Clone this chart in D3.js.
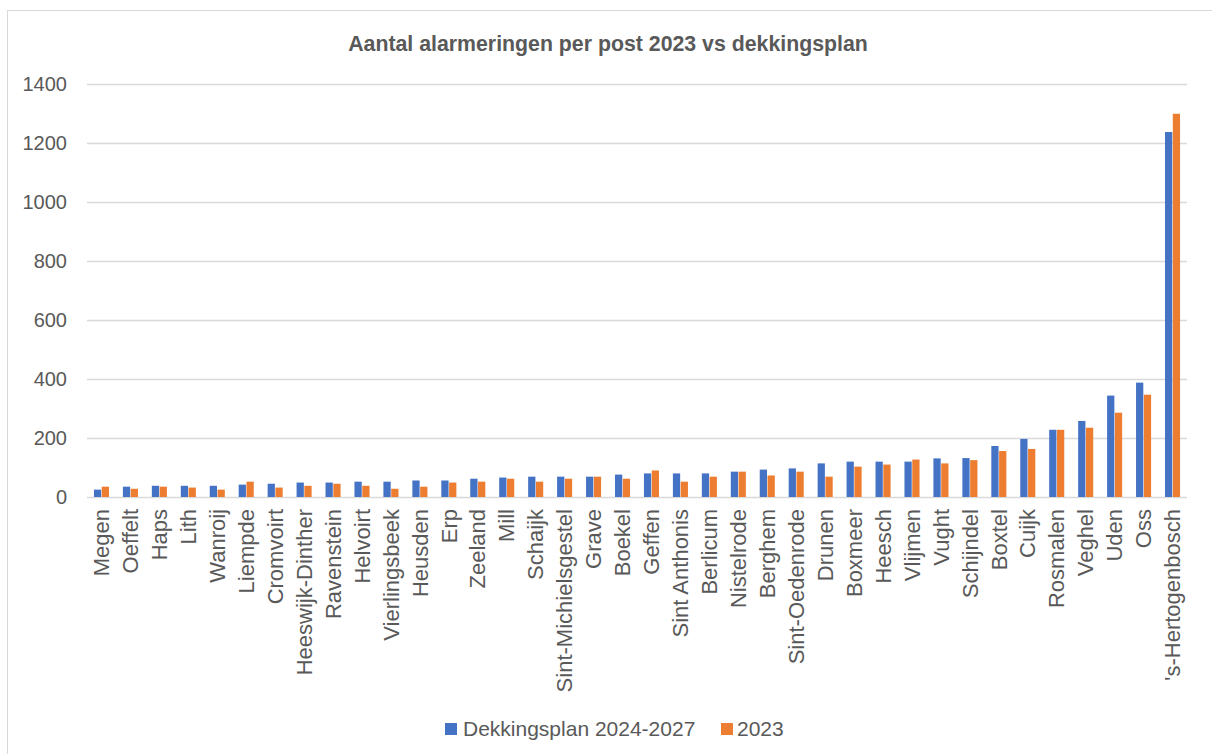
<!DOCTYPE html>
<html>
<head>
<meta charset="utf-8">
<script src="https://cdn.jsdelivr.net/npm/d3@7"></script>
<style>
  html, body { margin: 0; padding: 0; background: #fff; }
  svg { display: block; }
  text { font-family: "Liberation Sans", Arial, sans-serif; fill: #595959; }
</style>
</head>
<body>
<svg id="chart" width="1212" height="754"></svg>
<script>
const categories = ["Megen","Oeffelt","Haps","Lith","Wanroij","Liempde","Cromvoirt","Heeswijk-Dinther","Ravenstein","Helvoirt","Vierlingsbeek","Heusden","Erp","Zeeland","Mill","Schaijk","Sint-Michielsgestel","Grave","Boekel","Geffen","Sint Anthonis","Berlicum","Nistelrode","Berghem","Sint-Oedenrode","Drunen","Boxmeer","Heesch","Vlijmen","Vught","Schijndel","Boxtel","Cuijk","Rosmalen","Veghel","Uden","Oss","'s-Hertogenbosch"];
const dekkingsplan = [25,35,38,38,38,42,45,49,49,52,52,56,56,62,66,69,69,69,76,80,80,80,86,93,97,114,120,120,120,131,132,173,197,228,258,344,388,1238];
const jaar2023 = [35,28,35,32,25,52,32,38,45,38,28,35,49,52,62,52,62,69,62,90,52,69,86,73,86,69,103,110,127,114,125,156,163,228,235,286,347,1300];
const yTicks = [0,200,400,600,800,1000,1200,1400];
const seriesNames = ["Dekkingsplan 2024-2027","2023"];
const seriesColors = ["#4472C4","#ED7D31"];
const title = "Aantal alarmeringen per post 2023 vs dekkingsplan";

const svg = d3.select("#chart");
const plot = {left: 87, right: 1187, top: 84, bottom: 497};

// chart border
svg.append("rect").attr("x", 7.5).attr("y", 10.5).attr("width", 1220).attr("height", 760)
  .attr("fill", "#fff").attr("stroke", "#D9D9D9").attr("stroke-width", 1);

const x0 = d3.scaleBand().domain(categories).range([plot.left, plot.right])
  .paddingInner(0.48).paddingOuter(0.24);
const x1 = d3.scaleBand().domain([0,1]).range([0, x0.bandwidth()]).paddingInner(0.07);
const y = d3.scaleLinear().domain([0,1400]).range([plot.bottom, plot.bottom - 1400*0.2948]);

// gridlines
svg.append("g").selectAll("line").data(yTicks).join("line")
  .attr("x1", plot.left).attr("x2", plot.right)
  .attr("y1", d => Math.round(y(d)) + 0.5).attr("y2", d => Math.round(y(d)) + 0.5)
  .attr("stroke", "#D9D9D9").attr("stroke-width", 1.3);

// y axis labels
const yAxis = d3.axisLeft(y).tickValues(yTicks).tickFormat(d3.format("d")).tickSize(0).tickPadding(0);
const yg = svg.append("g").attr("transform", `translate(67,0)`).call(yAxis);
yg.select(".domain").remove();
yg.selectAll("text").attr("font-size", "20px").attr("fill", "#595959")
  .style("font-family", "'Liberation Sans', Arial, sans-serif");

// bars
const data = categories.map((c, i) => ({c, vals: [dekkingsplan[i], jaar2023[i]]}));
const groups = svg.append("g").selectAll("g").data(data).join("g")
  .attr("transform", d => `translate(${x0(d.c)},0)`);
groups.selectAll("rect").data(d => d.vals.map((v, k) => ({v, k}))).join("rect")
  .attr("x", d => x1(d.k)).attr("width", x1.bandwidth())
  .attr("y", d => y(d.v)).attr("height", d => y(0) - y(d.v))
  .attr("fill", d => seriesColors[d.k]);

// x axis labels
const xAxis = d3.axisBottom(x0).tickSize(0).tickPadding(0);
const xg = svg.append("g").attr("transform", `translate(0,${plot.bottom})`).call(xAxis);
xg.select(".domain").remove();
xg.selectAll("text")
  .attr("transform", "rotate(-90)")
  .attr("x", -12).attr("y", 0).attr("dy", "0.35em")
  .attr("text-anchor", "end")
  .attr("font-size", "22px").attr("fill", "#595959")
  .style("font-family", "'Liberation Sans', Arial, sans-serif");

// title
svg.append("text").attr("x", 608).attr("y", 51).attr("text-anchor", "middle")
  .attr("font-size", "21.3px").attr("font-weight", "bold").text(title);

// legend
const legendItems = [{x: 445, tx: 463}, {x: 721, tx: 737}];
legendItems.forEach((it, i) => {
  svg.append("rect").attr("x", it.x).attr("y", 723).attr("width", 12).attr("height", 12)
    .attr("fill", seriesColors[i]);
  svg.append("text").attr("x", it.tx).attr("y", 735.5).attr("font-size", "21px").text(seriesNames[i]);
});
</script>
</body>
</html>
